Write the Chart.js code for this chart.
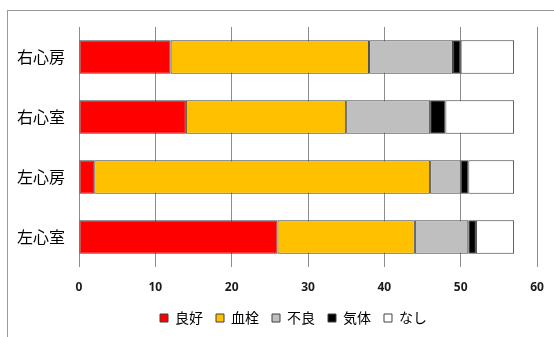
<!DOCTYPE html>
<html>
<head>
<meta charset="utf-8">
<script src="https://cdn.jsdelivr.net/npm/chart.js@4"></script>
<style>
  html, body { margin: 0; padding: 0; background: #fff; }
  #wrap { position: relative; width: 554px; height: 337px; overflow: hidden; }
  #frame { position: absolute; left: 7px; top: 10px; width: 700px; height: 500px; border: 1px solid #9a9a9a; box-sizing: border-box; }
  #c { position: absolute; left: 0; top: 0; }
</style>
</head>
<body>
<div id="wrap">
  <div id="frame"></div>
  <canvas id="c" width="554" height="337"></canvas>
</div>
<script>
// Chambers, listed top to bottom
const categories = ['右心房', '右心室', '左心房', '左心室'];

// Counts per chamber for each finding
const good     = [12, 14, 2, 26];  // 良好
const thrombus = [26, 21, 44, 18]; // 血栓
const poor     = [11, 11, 4, 7];   // 不良
const gas      = [1, 2, 1, 1];     // 気体
const none     = [7, 9, 6, 5];     // なし

const seriesNames = ['良好', '血栓', '不良', '気体', 'なし'];
const seriesColors = ['#ff0000', '#ffc000', '#bfbfbf', '#000000', '#ffffff'];
const seriesValues = [good, thrombus, poor, gas, none];

const xTicks = [0, 10, 20, 30, 40, 50, 60];

const jpFont = "'Noto Sans CJK JP', 'Noto Sans', sans-serif";

const datasets = seriesNames.map((name, i) => ({
  label: name,
  data: seriesValues[i],
  backgroundColor: seriesColors[i],
  borderColor: '#404040',
  borderWidth: 1,
  borderSkipped: false,
  categoryPercentage: 1.0,
  barPercentage: 0.56
}));

// Nudge the legend block to the right of the canvas centre
const legendShift = {
  id: 'legendShift',
  afterLayout(chart) {
    const lg = chart.legend;
    if (lg) { lg.left += 25; lg.right += 25; }
  }
};

new Chart(document.getElementById('c'), {
  type: 'bar',
  data: { labels: categories, datasets },
  plugins: [legendShift],
  options: {
    indexAxis: 'y',
    responsive: false,
    animation: false,
    layout: { padding: { left: 0, right: 17, top: 27, bottom: 2 } },
    scales: {
      x: {
        stacked: true,
        min: 0,
        max: 60,
        afterBuildTicks: (scale) => { scale.ticks = xTicks.map(v => ({ value: v })); },
        grid: { color: '#8c8c8c', lineWidth: 1, drawTicks: false },
        border: { display: false },
        ticks: {
          padding: 13,
          color: '#1a1a1a',
          font: { family: "'Noto Sans', sans-serif", size: 12, weight: 'bold' }
        },
        afterFit: (scale) => {
          scale.height = 31;
          scale.paddingLeft = 0;
          scale.paddingRight = 0;
        }
      },
      y: {
        stacked: true,
        grid: { display: false, drawTicks: false },
        border: { display: false },
        ticks: {
          padding: 14,
          color: '#000000',
          font: { family: jpFont, size: 16 }
        },
        afterFit: (scale) => { scale.width = 79; }
      }
    },
    plugins: {
      tooltip: { enabled: false },
      legend: {
        position: 'bottom',
        labels: {
          boxWidth: 8,
          boxHeight: 8,
          padding: 13,
          color: '#000000',
          font: { family: jpFont, size: 14 },
          generateLabels: (chart) => chart.data.datasets.map((ds, i) => ({
            text: ds.label,
            fillStyle: ds.backgroundColor,
            strokeStyle: '#404040',
            lineWidth: 1,
            fontColor: '#000000',
            datasetIndex: i,
            hidden: false
          }))
        }
      }
    }
  }
});
</script>
</body>
</html>
